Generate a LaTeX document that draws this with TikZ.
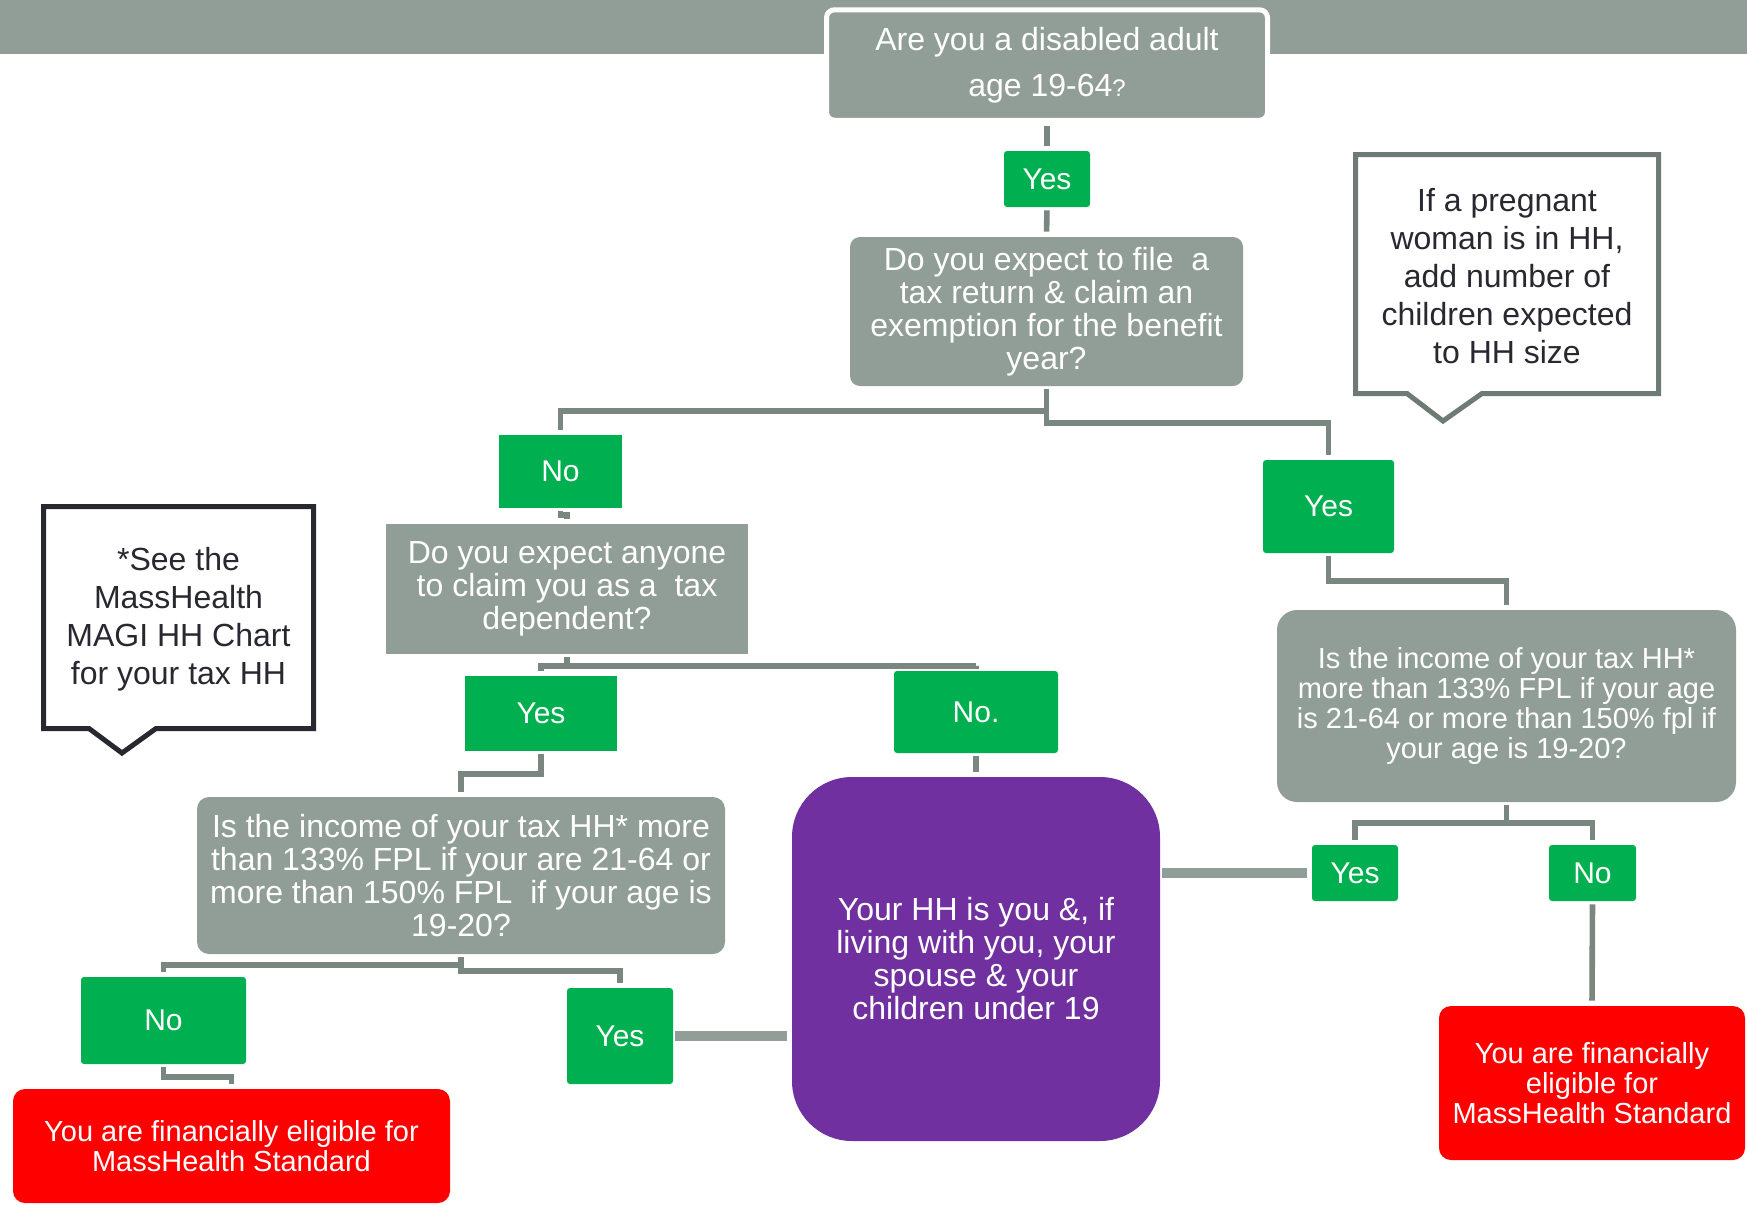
\documentclass[tikz,border=0pt]{standalone}
\usepackage{fontspec}
\setmainfont{Liberation Sans}
\definecolor{qgray}{RGB}{145,158,151}
\definecolor{lgray}{RGB}{122,134,128}
\definecolor{ggreen}{RGB}{0,176,80}
\definecolor{rred}{RGB}{255,0,0}
\definecolor{ppurple}{RGB}{112,48,160}
\definecolor{dark}{RGB}{40,40,48}
\definecolor{cgray}{RGB}{110,122,116}
\tikzset{
  base/.style={inner sep=0pt, align=center, text=white},
  qbox/.style={base, fill=qgray, font=\fontsize{16}{16.5}\selectfont},
  gbox/.style={base, fill=ggreen, font=\fontsize{15}{18}\selectfont},
  rbox/.style={base, fill=rred, rounded corners=6pt, font=\fontsize{14.5}{15}\selectfont},
  conn/.style={draw=lgray, line width=2.8pt, shorten <=1.5pt, shorten >=2.5pt},
  thick conn/.style={draw=qgray, line width=5pt, shorten <=1pt, shorten >=2.5pt},
  callout/.style={line width=2.5pt, line join=miter, fill=white},
  ctext/.style={inner sep=0pt, align=center, text=dark, font=\fontsize{16}{19}\selectfont}
}
\begin{document}
\begin{tikzpicture}[x=0.5pt,y=-0.5pt]
\useasboundingbox (0,0) rectangle (1747,1205);
\fill[qgray] (0,0) rectangle (1747,54);

% question boxes
\node[qbox, draw=white, line width=2.5pt, rounded corners=4pt, minimum width=220.5pt, minimum height=55.25pt,
      font=\fontsize{16}{23}\selectfont] (q1) at (1047,65)
  {Are you a disabled adult\\age 19-64{\fontsize{12}{23}\selectfont ?}};
\node[gbox, rounded corners=1.5pt, minimum width=43pt, minimum height=28pt] (y1) at (1047,179) {Yes};
\node[qbox, rounded corners=5pt, minimum width=196.5pt, minimum height=74.5pt] (q2) at (1046.5,311.5)
  {Do you expect to file\ \ a\\tax return \& claim an\\exemption for the benefit\\year?};
\node[gbox, minimum width=61.5pt, minimum height=36.5pt] (no1) at (560.5,471.5) {No};
\node[gbox, rounded corners=1.5pt, minimum width=65.5pt, minimum height=46.5pt] (y3) at (1328.5,506.5) {Yes};
\node[qbox, minimum width=181pt, minimum height=65pt] (q3) at (567,589)
  {Do you expect anyone\\to claim you as a\ \ tax\\dependent?};
\node[gbox, minimum width=76pt, minimum height=37.5pt] (y2) at (541,713.5) {Yes};
\node[gbox, rounded corners=1.5pt, minimum width=82pt, minimum height=41pt] (no2) at (976,712) {No.};
\node[base, fill=ppurple, rounded corners=30pt, minimum width=184pt, minimum height=182pt,
      font=\fontsize{16}{16.5}\selectfont] (hh) at (976,959)
  {Your HH is you \&, if\\living with you, your\\spouse \& your\\children under 19};
\node[qbox, rounded corners=10pt, minimum width=229.5pt, minimum height=96pt,
      font=\fontsize{14.5}{15}\selectfont] (q5) at (1506.5,706)
  {Is the income of your tax HH*\\more than 133\% FPL if your age\\is 21-64 or more than 150\% fpl if\\your age is 19-20?};
\node[gbox, rounded corners=1.5pt, minimum width=43pt, minimum height=28pt] (y4) at (1355,873) {Yes};
\node[gbox, rounded corners=1.5pt, minimum width=43.5pt, minimum height=28pt] (no4) at (1592.5,873) {No};
\node[rbox, minimum width=153pt, minimum height=77pt] (rr) at (1592,1083)
  {You are financially\\eligible for\\MassHealth Standard};
\node[qbox, rounded corners=6pt, minimum width=264pt, minimum height=78.5pt] (q4) at (461,875.5)
  {Is the income of your tax HH* more\\than 133\% FPL if your are 21-64 or\\more than 150\% FPL\ \ if your age is\\19-20?};
\node[gbox, rounded corners=1.5pt, minimum width=82.5pt, minimum height=43.5pt] (no5) at (163.5,1020.5) {No};
\node[gbox, rounded corners=1.5pt, minimum width=53pt, minimum height=48pt] (y5) at (620,1036) {Yes};
\node[rbox, minimum width=218.5pt, minimum height=57pt] (rl) at (231.5,1146)
  {You are financially eligible for\\MassHealth Standard};

% callouts
\draw[callout, draw=dark] (43.5,506.5) -- (313.5,506.5) -- (313.5,728.5) -- (156,728.5) -- (122,753)
  -- (89,728.5) -- (43.5,728.5) -- cycle;
\node[ctext] (cl) at (178.5,619) {*See the\\MassHealth\\MAGI HH Chart\\for your tax HH};
\draw[callout, draw=cgray] (1355.5,154.5) -- (1658.5,154.5) -- (1658.5,393.5) -- (1482,393.5) -- (1443,421)
  -- (1407,393.5) -- (1355.5,393.5) -- cycle;
\node[ctext] (cr) at (1507,276) {If a pregnant\\woman is in HH,\\add number of\\children expected\\to HH size};

% connectors
\draw[conn] (q1.south) -- (y1.north);
\draw[conn] (y1.south) -- (q2.north);
\draw[conn] (q2.south) -- (q2.south |- 0,423) -| (y3.north);
\draw[conn] (q2.south |- 0,411) -| (no1.north);
\draw[conn] (no1.south) -- (no1.south |- 0,515) -| (q3.north);
\draw[conn] (q3.south) -- (q3.south |- 0,666) -| (no2.north);
\draw[conn] (q3.south |- 0,666) -| (y2.north);
\draw[conn] (y2.south) -- (y2.south |- 0,774) -| (q4.north);
\draw[conn] (no2.south) -- (hh.north);
\draw[conn] (y3.south) -- (y3.south |- 0,581) -| (q5.north);
\draw[conn] (q5.south) -- (q5.south |- 0,823) -| (no4.north);
\draw[conn] (q5.south |- 0,823) -| (y4.north);
\draw[conn] (no4.south) -- (rr.north);
\draw[conn] (q4.south) -- (q4.south |- 0,971) -| (y5.north);
\draw[conn] (q4.south |- 0,965) -| (no5.north);
\draw[conn] (no5.south) -- (no5.south |- 0,1077) -| (rl.north);
\draw[thick conn] (y4.west -| hh.east) -- (y4.west);
\draw[thick conn] (y5.east) -- (y5.east -| hh.west);
\end{tikzpicture}
\end{document}
